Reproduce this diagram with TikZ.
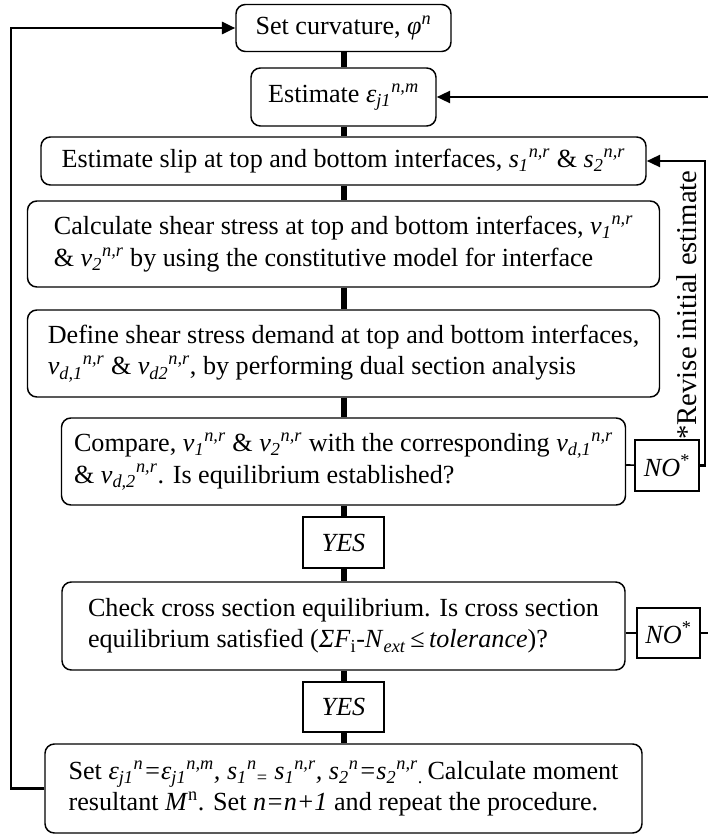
\documentclass[tikz,border=0pt]{standalone}
\usepackage{fontspec}
\setmainfont{Liberation Serif}
\usetikzlibrary{arrows.meta}
\newcommand{\SubSup}[3]{\textit{#1}\textsubscript{\textit{#2}}\textsuperscript{\textit{#3}}}
\begin{document}
\begin{tikzpicture}[x=0.75pt,y=-0.75pt,
  txt/.style={font=\fontsize{19.6}{23.5}\selectfont},
  box/.style={txt,draw,line width=1.1pt,rounded corners=7pt,align=left,inner sep=0pt},
  sq/.style={txt,draw,line width=1.1pt,inner sep=0pt},
  conn/.style={line width=4.5pt},
  thinl/.style={line width=1.2pt},
  loopL/.style={line width=2pt,-{Triangle[length=10pt,width=9pt]}},
  loopR/.style={line width=1.6pt,-{Triangle[length=10pt,width=9pt]}}]
\useasboundingbox (0,0) rectangle (707,835);

\node[box,minimum width=161.25pt,minimum height=35.25pt] (b1) at (343.5,28) {Set curvature, \textit{φ}\textsuperscript{\textit{n}}};
\node[box,minimum width=138.75pt,minimum height=43.5pt] (b2) at (343.5,97) {Estimate \SubSup{ε}{j1}{n,m}};
\node[box,minimum width=453.75pt,minimum height=36pt] (slip) at (343.5,161) {Estimate slip at top and bottom interfaces, \SubSup{s}{1}{n,r} \& \SubSup{s}{2}{n,r}};
\node[box,minimum width=474pt,minimum height=64.5pt] (calc) at (343.5,244) {Calculate shear stress at top and bottom interfaces, \SubSup{v}{1}{n,r}\\ \& \SubSup{v}{2}{n,r} by using the constitutive model for interface};
\node[box,minimum width=474pt,minimum height=65.25pt] (def) at (343.5,353.5) {Define shear stress demand at top and bottom interfaces,\\ \SubSup{v}{d,1}{n,r} \& \SubSup{v}{d2}{n,r}, by performing dual section analysis};
\node[box,minimum width=423pt,minimum height=65.25pt] (cmp) at (343.5,461.5) {Compare, \SubSup{v}{1}{n,r} \& \SubSup{v}{2}{n,r} with the corresponding \SubSup{v}{d,1}{n,r}\\ \& \SubSup{v}{d,2}{n,r}. Is equilibrium established?};
\node[sq,minimum width=60.75pt,minimum height=38.25pt] (yes1) at (343.5,542.5) {\textit{YES}};
\node[box,minimum width=422.25pt,minimum height=66pt] (chk) at (343.5,626) {Check cross section equilibrium. Is cross section\\ equilibrium satisfied (\textit{ΣF}\textsubscript{i}\textit{-N}\textsubscript{\textit{ext}}\,≤\,\textit{tolerance})?};
\node[sq,minimum width=60.75pt,minimum height=37.5pt] (yes2) at (343.5,707) {\textit{YES}};
\node[box,minimum width=447.75pt,minimum height=66.75pt] (fin) at (343.5,788.5) {Set \SubSup{ε}{j1}{n}\textit{=}\SubSup{ε}{j1}{n,m}\textit{, }\SubSup{s}{1}{n}\textsubscript{=} \SubSup{s}{1}{n,r}\textit{, }\SubSup{s}{2}{n}\textit{=}\SubSup{s}{2}{n,r}\textsubscript{.}\,Calculate moment\\ resultant \textit{M}\textsuperscript{n}. Set \textit{n=n+1} and repeat the procedure.};
\node[sq,minimum width=48pt,minimum height=38.25pt] (no1) at (667,465.5) {\textit{NO}\textsuperscript{*}};
\node[sq,minimum width=47.25pt,minimum height=37.5pt] (no2) at (668.5,633) {\textit{NO}\textsuperscript{*}};
\node[rotate=90,font=\fontsize{21.5}{24}\selectfont,inner sep=0pt] (rev) at (687,305) {*Revise initial estimate};

\coordinate (L1) at (11,0);
\coordinate (R1) at (705,0);
\coordinate (R2) at (712,0);

\draw[conn] (b1) -- (b2);
\draw[conn] (b2) -- (slip);
\draw[conn] (slip) -- (calc);
\draw[conn] (calc) -- (def);
\draw[conn] (def) -- (cmp);
\draw[conn] (cmp) -- (yes1);
\draw[conn] (yes1) -- (chk);
\draw[conn] (chk) -- (yes2);
\draw[conn] (yes2) -- (fin);

\draw[thinl] (cmp) -- (no1);
\draw[thinl] (chk.east |- no2) -- (no2);
\draw[loopR] (no1.east) -- (no1.east -| R1) |- (slip.east);
\draw[loopR] (no2.east) -- (no2.east -| R2) |- (b2.east);
\draw[loopL] (fin.west) -- (fin.west -| L1) |- (b1.west);
\end{tikzpicture}
\end{document}
